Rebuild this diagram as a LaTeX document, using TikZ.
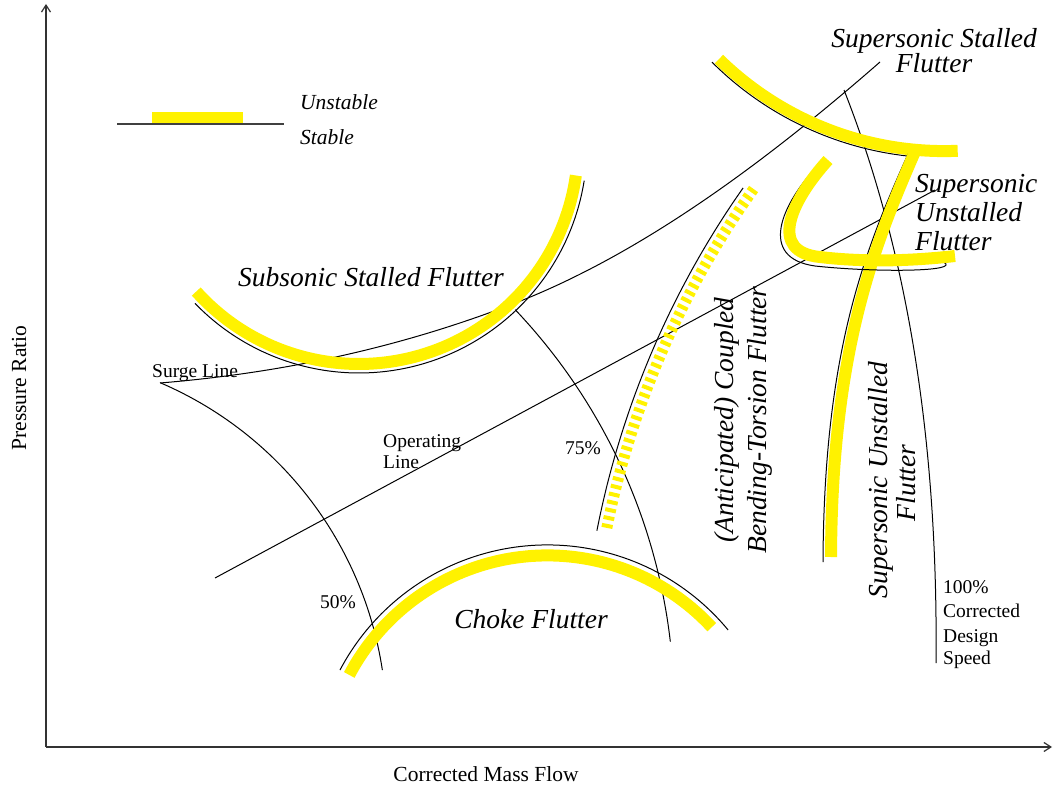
\documentclass[tikz,border=0pt]{standalone}
\usepackage{fontspec}
\setmainfont{Liberation Serif}
\usetikzlibrary{arrows.meta}
\begin{document}
\begin{tikzpicture}[x=1pt,y=-1pt,
  stab/.style={line width=1pt, black},
  unst/.style={line width=12pt, yellow},
  axis/.style={line width=1.2pt, black!80, -{Straight Barb[length=7pt,width=9pt]}},
  big/.style={font=\fontsize{27.5}{33}\selectfont\itshape, inner sep=0pt},
  leg/.style={font=\fontsize{21.5}{26}\selectfont\itshape, inner sep=0pt},
  lab/.style={font=\fontsize{19.5}{23}\selectfont, inner sep=0pt},
  axl/.style={font=\fontsize{21.5}{26}\selectfont, inner sep=0pt}]
\useasboundingbox (0,0) rectangle (1053,789);

% axes
\coordinate (origin) at (46,747);
\coordinate (ytop) at (46,4);
\coordinate (xend) at (1052,747);
\draw[axis] (origin) -- (ytop);
\draw[axis] (origin) -- (xend);
\node[axl, rotate=90, anchor=base] (ylab) at (26,388) {Pressure Ratio};
\node[axl, anchor=base] (xlab) at (486,781) {Corrected Mass Flow};

% legend
\coordinate (legA) at (117,124);
\coordinate (legB) at (284,124);
\draw[stab, line width=1.2pt, black!75] (legA) -- (legB);
\fill[yellow] (152,112) rectangle (243,123);
\node[leg, anchor=base west] (unstable) at (300,110) {Unstable};
\node[leg, anchor=base west] (stable) at (300,145) {Stable};

% operating line
\coordinate (opA) at (215,578);
\coordinate (opB) at (935,190);
\draw[stab] (opA) -- (opB);

% surge line
\coordinate (surgeA) at (160,383);
\coordinate (surgeM) at (523,300);
\coordinate (surgeB) at (880,62);
\draw[stab] (surgeA) .. controls (281,373) and (402,348) .. (surgeM)
  .. controls (642,252) and (761,166) .. (surgeB);

% speed lines
\draw[stab] plot[domain=-66.8:-8.6, samples=60, variable=\t] ({13.1+373.5*cos(\t)}, {726+373.5*sin(\t)});
\draw[stab] plot[domain=-43.5:-6.6, samples=60, variable=\t] ({95.2+579*cos(\t)}, {708.2+579*sin(\t)});
\draw[stab] (844,90) .. controls (915,270) and (938,470) .. (936,663);

% subsonic stalled flutter
\draw[stab] plot[domain=9:136, samples=80, variable=\t] ({359+228*cos(\t)}, {145+228*sin(\t)});
\draw[unst] plot[domain=8:138, samples=80, variable=\t] ({359+219*cos(\t)}, {145+219*sin(\t)});

% choke flutter
\draw[stab] plot[domain=-152.2:-39.6, samples=80, variable=\t] ({547.4+234.5*cos(\t)}, {779.4+234.5*sin(\t)});
\draw[unst] plot[domain=-152.2:-42.8, samples=80, variable=\t] ({547.4+224*cos(\t)}, {779.4+224*sin(\t)});

% coupled bending-torsion flutter
\draw[stab] plot[domain=-168.9:-144.9, samples=60, variable=\t] ({1476.3+896.2*cos(\t)}, {703.2+896.2*sin(\t)});
\draw[unst, line width=11pt, dash pattern=on 4pt off 4pt] plot[domain=-168.6:-144.4, samples=60, variable=\t] ({1476.3+887*cos(\t)}, {703.2+887*sin(\t)});

% supersonic stalled flutter
\draw[stab] plot[domain=96.3:134.9, samples=60, variable=\t] ({944.2+329*cos(\t)}, {-170.9+329*sin(\t)});
\draw[unst] plot[domain=87.6:134.4, samples=60, variable=\t] ({944.2+322*cos(\t)}, {-170.9+322*sin(\t)});

% supersonic unstalled flutter (vertical)
\draw[stab] (908,154) .. controls (865,250) and (824,350) .. (823,562);
\draw[unst] (917,147) .. controls (874,245) and (832,350) .. (831,557);

% supersonic unstalled flutter (hook)
\draw[stab] (820,163) .. controls (780,205) and (758,258) .. (815,266)
  .. controls (870,272) and (950,272) .. (946,264)
  .. controls (944,260) and (935,259) .. (927,260);
\draw[unst] (828,160) .. controls (790,202) and (768,252) .. (820,257)
  .. controls (870,263) and (920,260) .. (955,256);

% labels
\node[big, anchor=base] (subs) at (371,286) {Subsonic Stalled Flutter};
\node[big, anchor=base] (choke) at (531,628) {Choke Flutter};
\node[big, anchor=base] (sst1) at (934,48) {Supersonic Stalled};
\node[big, anchor=base] (sst2) at (934,73) {Flutter};
\node[big, anchor=base west] (su1) at (915,193) {Supersonic};
\node[big, anchor=base west] (su2) at (915,222) {Unstalled};
\node[big, anchor=base west] (su3) at (915,250) {Flutter};
\node[big, rotate=90, anchor=base] (cp1) at (733,420) {(Anticipated) Coupled};
\node[big, rotate=90, anchor=base] (cp2) at (766,420) {Bending-Torsion Flutter};
\node[big, rotate=90, anchor=base] (sv1) at (887,480) {Supersonic Unstalled};
\node[big, rotate=90, anchor=base] (sv2) at (915,483) {Flutter};

\node[lab, anchor=base west] (surge) at (152,377) {Surge Line};
\node[lab, anchor=base west] (op1) at (383,447) {Operating};
\node[lab, anchor=base west] (op2) at (383,468) {Line};
\node[lab, anchor=base west] (p50) at (320,608) {50\%};
\node[lab, anchor=base west] (p75) at (565,454) {75\%};
\node[lab, anchor=base west] (p100) at (943,593) {100\%};
\node[lab, anchor=base west] (corr) at (943,617) {Corrected};
\node[lab, anchor=base west] (des) at (943,642) {Design};
\node[lab, anchor=base west] (spd) at (943,664) {Speed};
\end{tikzpicture}
\end{document}
